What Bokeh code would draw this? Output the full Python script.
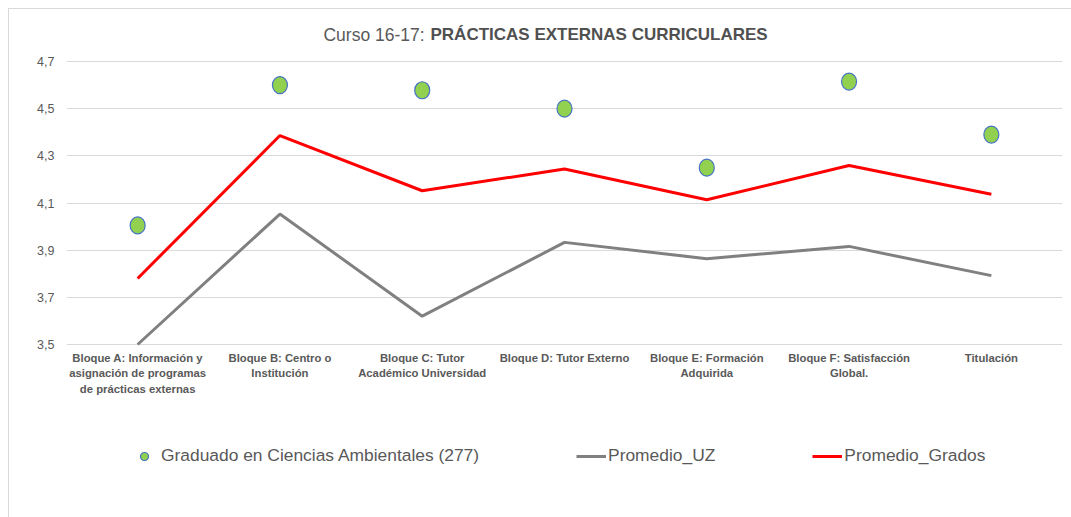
from bokeh.plotting import figure
from bokeh.models import (FactorRange, Range1d, FixedTicker, Label, Legend, LegendItem,
                          ColumnDataSource)
from bokeh.embed import file_html
from bokeh.resources import INLINE

categories = [
    "Bloque A: Información y\nasignación de programas\nde prácticas externas",
    "Bloque B: Centro o\nInstitución",
    "Bloque C: Tutor\nAcadémico Universidad",
    "Bloque D: Tutor Externo",
    "Bloque E: Formación\nAdquirida",
    "Bloque F: Satisfacción\nGlobal.",
    "Titulación",
]
graduado = [4.005, 4.60, 4.578, 4.50, 4.25, 4.615, 4.39]
promedio_uz = [3.50, 4.053, 3.62, 3.933, 3.864, 3.916, 3.792]
promedio_grados = [3.78, 4.386, 4.152, 4.244, 4.114, 4.259, 4.137]
y_ticks = [3.5, 3.7, 3.9, 4.1, 4.3, 4.5, 4.7]
y_tick_labels = ["3,5", "3,7", "3,9", "4,1", "4,3", "4,5", "4,7"]
series_names = ["Graduado en Ciencias Ambientales (277)", "Promedio_UZ", "Promedio_Grados"]
title_normal = "Curso 16-17: "
title_bold = "PRÁCTICAS EXTERNAS CURRICULARES"

FONT = "Liberation Sans"
GREY_TXT = "#595959"
GREEN, BLUE = "#92d050", "#4472c4"

# layout (pixels, relative to figure origin)
W, H = 1063, 509
FR_L, FR_R, FR_T, FR_B = 57, 1053, 2, 509          # frame box
AX_TOP, AX_BOT = 52, 335                            # where 4.7 and 3.5 sit
ppu = (AX_BOT - AX_TOP) / (y_ticks[-1] - y_ticks[0])
y_top = y_ticks[-1] + (AX_TOP - FR_T) / ppu
y_bot = y_ticks[0] - (FR_B - AX_BOT) / ppu

p = figure(width=W, height=H, x_range=FactorRange(*categories, range_padding=0),
           y_range=Range1d(y_bot, y_top), output_backend="svg", toolbar_location=None,
           x_axis_location=None,
           min_border_left=FR_L, min_border_right=W - FR_R, min_border_top=FR_T,
           min_border_bottom=H - FR_B)
p.styles = {"margin-left": "8px", "margin-top": "8px",
            "border-top": "1px solid #d9d9d9", "border-left": "1px solid #d9d9d9"}
p.outline_line_color = None
p.background_fill_color = "white"
p.border_fill_color = "white"
p.xgrid.grid_line_color = None

src = ColumnDataSource(dict(cat=categories, g=graduado, uz=promedio_uz, gr=promedio_grados))

r_uz = p.line("cat", "uz", source=src, line_color="#808080", line_width=3)
r_gr = p.line("cat", "gr", source=src, line_color="#ff0000", line_width=3)
p.ellipse("cat", "g", source=src, width=15, height=17, width_units="screen",
          height_units="screen", fill_color=GREEN, line_color=BLUE, line_width=1.2)
# legend swatch for the markers (a NaN point: drawn only in the legend)
r_g = p.scatter(x=[categories[0]], y=[float("nan")], size=11, fill_color=GREEN,
                line_color=BLUE, line_width=1.2)

# y axis
p.yaxis.ticker = FixedTicker(ticks=y_ticks)
p.yaxis.major_label_overrides = {t: l for t, l in zip(y_ticks, y_tick_labels)}
p.yaxis.axis_line_color = None
p.yaxis.major_tick_line_color = None
p.yaxis.minor_tick_line_color = None
p.yaxis.major_label_text_color = GREY_TXT
p.yaxis.major_label_text_font = FONT
p.yaxis.major_label_text_font_size = "12.5px"
p.yaxis.major_label_standoff = 6
p.ygrid.ticker = FixedTicker(ticks=y_ticks)
p.ygrid.grid_line_color = "#d9d9d9"
p.ygrid.grid_line_width = 1

# category labels under the 3,5 line
p.text(x=categories, y=[y_ticks[0]] * len(categories), text=categories, y_offset=7,
       text_align="center", text_baseline="top", text_font={"value": FONT},
       text_font_size="11.3px", text_font_style="bold", text_color=GREY_TXT,
       text_line_height=1.3)

# title (two weights)
fh = FR_B - FR_T
JOIN = 428 - 8 - FR_L
p.add_layout(Label(x=JOIN, y=fh - 23, x_units="screen", y_units="screen", text=title_normal,
                   text_align="right", text_baseline="middle", text_font=FONT,
                   text_font_size="17.5px", text_color=GREY_TXT))
p.add_layout(Label(x=JOIN + 1, y=fh - 23, x_units="screen", y_units="screen", text=title_bold,
                   text_align="left", text_baseline="middle", text_font=FONT,
                   text_font_size="17px", text_font_style="bold", text_color="#505050"))

legend = Legend(items=[LegendItem(label=series_names[0], renderers=[r_g], index=0),
                       LegendItem(label=series_names[1], renderers=[r_uz]),
                       LegendItem(label=series_names[2], renderers=[r_gr])],
                orientation="horizontal", location=(128 - 8 - FR_L, 52),
                glyph_width=30, glyph_height=20, label_standoff=2, spacing=97,
                padding=0, margin=0, border_line_color=None, background_fill_alpha=0,
                label_text_font=FONT, label_text_font_size="17.4px",
                label_text_color=GREY_TXT, label_height=20)
p.add_layout(legend, "center")

open("out.html", "w").write(file_html(p, INLINE))
